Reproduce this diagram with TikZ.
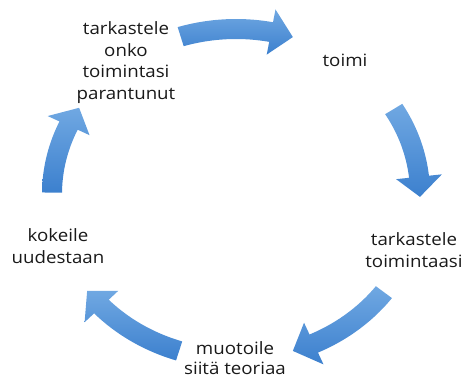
\documentclass[tikz,border=0pt]{standalone}
\usepackage{fontspec}
\setmainfont{Open Sans}[FakeStretch=1.1]
\definecolor{arrlight}{RGB}{112,168,226}
\definecolor{arrdark}{RGB}{60,128,206}
\definecolor{txt}{RGB}{25,25,25}
\newcommand{\cycarrow}[2]{% tail angle, tip angle
  \pgfmathsetmacro\cbase{#2+7}
  \shade[arrowfill] plot[domain=#1:\cbase, samples=30] ({236+194*cos(\x)},{194-175*sin(\x)})
   -- ({236+207*cos(\cbase)},{194-188*sin(\cbase)})
   -- ({236+184*cos(#2)},{194-165*sin(#2)})
   -- ({236+161*cos(\cbase)},{194-142*sin(\cbase)})
   -- plot[domain=\cbase:#1, samples=30] ({236+174*cos(\x)},{194-155*sin(\x)}) -- cycle;
}
\begin{document}
\begin{tikzpicture}[x=1pt,y=-1pt,
  arrowfill/.style={top color=arrlight, bottom color=arrdark},
  label/.style={align=center, inner sep=0pt, text=txt, font=\fontsize{17}{21.5}\selectfont}]
\useasboundingbox (0,0) rectangle (464,378);
\cycarrow{107.5}{72}
\cycarrow{31}{-1}
\cycarrow{323.5}{288}
\cycarrow{252}{216}
\cycarrow{179.5}{148.5}
\node[label] (n1) at (126,62.5) {tarkastele\\onko\\toimintasi\\parantunut};
\node[label] (n2) at (345,60.5) {toimi};
\node[label] (n3) at (414,250) {tarkastele\\toimintaasi};
\node[label, font=\fontsize{17}{20}\selectfont] (n4) at (235,358) {muotoile\\siitä teoriaa};
\node[label] (n5) at (58,246) {kokeile\\uudestaan};
\end{tikzpicture}
\end{document}
